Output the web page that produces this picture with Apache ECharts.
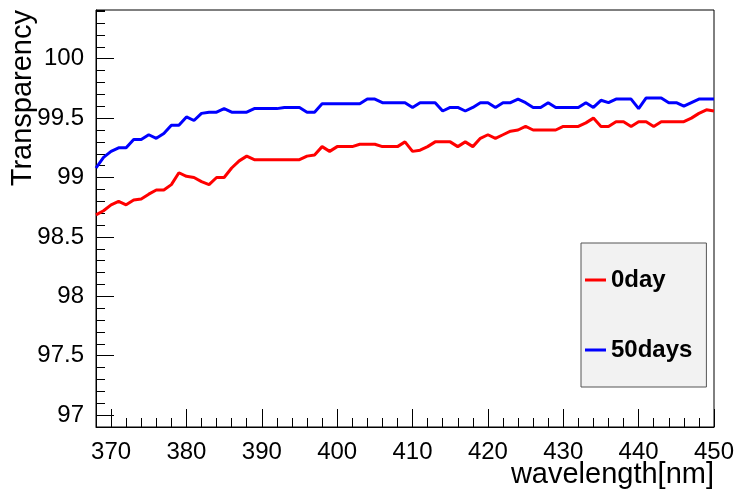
<!DOCTYPE html>
<html>
<head>
<meta charset="utf-8">
<script src="https://cdn.jsdelivr.net/npm/echarts@6/dist/echarts.min.js"></script>
<style>
html,body{margin:0;padding:0;background:#fff;}
#chart{width:738px;height:494px;}
</style>
</head>
<body>
<div id="chart"></div>
<script>
var wavelengths = [368,369,370,371,372,373,374,375,376,377,378,379,380,381,382,383,384,385,386,387,388,389,390,391,392,393,394,395,396,397,398,399,400,401,402,403,404,405,406,407,408,409,410,411,412,413,414,415,416,417,418,419,420,421,422,423,424,425,426,427,428,429,430,431,432,433,434,435,436,437,438,439,440,441,442,443,444,445,446,447,448,449,450];

var day0 = [98.685,98.72,98.77,98.80,98.77,98.81,98.82,98.86,98.895,98.895,98.94,99.04,99.01,99.00,98.965,98.94,99.00,99.00,99.08,99.14,99.18,99.15,99.15,99.15,99.15,99.15,99.15,99.15,99.18,99.19,99.26,99.22,99.26,99.26,99.26,99.28,99.28,99.28,99.26,99.26,99.26,99.30,99.22,99.23,99.26,99.30,99.30,99.30,99.26,99.30,99.26,99.33,99.36,99.33,99.36,99.39,99.40,99.43,99.40,99.40,99.40,99.40,99.43,99.43,99.43,99.46,99.50,99.43,99.43,99.47,99.47,99.43,99.47,99.47,99.43,99.47,99.47,99.47,99.47,99.50,99.54,99.57,99.56];

var days50 = [99.08,99.17,99.22,99.25,99.25,99.32,99.32,99.36,99.33,99.37,99.44,99.44,99.51,99.48,99.54,99.55,99.55,99.58,99.55,99.55,99.55,99.58,99.58,99.58,99.58,99.59,99.59,99.59,99.55,99.55,99.62,99.62,99.62,99.62,99.62,99.62,99.66,99.66,99.63,99.63,99.63,99.63,99.59,99.63,99.63,99.63,99.56,99.59,99.59,99.56,99.59,99.63,99.63,99.59,99.63,99.63,99.66,99.63,99.59,99.59,99.63,99.59,99.59,99.59,99.59,99.63,99.59,99.65,99.63,99.66,99.66,99.66,99.58,99.67,99.67,99.67,99.63,99.63,99.60,99.63,99.66,99.66,99.66];

var seriesNames = ['0day', '50days'];
var xTicks = [370,380,390,400,410,420,430,440,450];
var yTicks = [97,97.5,98,98.5,99,99.5,100];

var X_MIN = 368, X_MAX = 450, Y_MIN = 96.9, Y_MAX = 100.41;

function pairs(xs, ys){ return xs.map(function(x,i){ return [x, ys[i]]; }); }

// category helper axes (one entry per 1 nm / per 0.01) used only to place major ticks and labels
var xCats = [];
for (var a = X_MIN; a <= X_MAX; a++) xCats.push(String(a));
var yCats = [];
for (var b = Math.round(Y_MIN*100); b <= Math.round(Y_MAX*100); b++) yCats.push(String(b/100));

function isXMajor(i, v){ return xTicks.indexOf(Number(v)) >= 0; }
function isYMajor(i, v){ return yTicks.indexOf(Number(v)) >= 0; }

var chart = echarts.init(document.getElementById('chart'), null, {renderer:'canvas'});
var font = 'Liberation Sans, Arial, Helvetica, sans-serif';

chart.setOption({
  animation: false,
  backgroundColor: '#ffffff',
  grid: {left: 96, right: 24, top: 10, bottom: 67, show: true, borderColor: '#000', borderWidth: 1, backgroundColor: 'transparent'},
  xAxis: [{
    type: 'value', min: X_MIN, max: X_MAX, interval: 2, position: 'bottom',
    axisLine: {show: true, onZero: false, lineStyle: {color: '#000', width: 1}},
    axisTick: {show: true, inside: true, length: 9, lineStyle: {color: '#000'}},
    axisLabel: {show: false},
    splitLine: {show: false}
  }, {
    type: 'category', data: xCats, boundaryGap: false, position: 'bottom',
    axisLine: {show: false},
    axisTick: {show: true, inside: true, length: 18, interval: isXMajor, lineStyle: {color: '#000'}},
    axisLabel: {show: true, interval: isXMajor, margin: 13, color: '#000', fontSize: 24, fontFamily: font},
    splitLine: {show: false}
  }],
  yAxis: [{
    type: 'value', min: Y_MIN, max: Y_MAX, interval: 0.1, position: 'left',
    axisLine: {show: true, onZero: false, lineStyle: {color: '#000', width: 1}},
    axisTick: {show: true, inside: true, length: 9, lineStyle: {color: '#000'}},
    axisLabel: {show: false},
    splitLine: {show: false}
  }, {
    type: 'category', data: yCats, boundaryGap: false, position: 'left',
    axisLine: {show: false},
    axisTick: {show: true, inside: true, length: 18, interval: isYMajor, lineStyle: {color: '#000'}},
    axisLabel: {show: true, interval: isYMajor, margin: 12, color: '#000', fontSize: 24, fontFamily: font},
    splitLine: {show: false}
  }],
  legend: {
    data: seriesNames,
    orient: 'vertical', left: 581, top: 243,
    icon: 'rect', itemWidth: 21, itemHeight: 3, itemGap: 46,
    textStyle: {color: '#000', fontWeight: 'bold', fontSize: 24, lineHeight: 22, fontFamily: font},
    backgroundColor: '#f2f2f2', borderColor: '#555', borderWidth: 1, borderRadius: 0,
    padding: [25, 14, 25, 4]
  },
  graphic: [{
    type: 'text', right: 24, top: 460,
    style: {text: 'wavelength[nm]', fill: '#000', font: '29px ' + font}
  }, {
    type: 'text', x: 37, y: 10, rotation: Math.PI/2,
    style: {text: 'Transparency', fill: '#000', font: '29px ' + font, align: 'right', verticalAlign: 'bottom'}
  }],
  series: [{
    name: seriesNames[0], type: 'line', xAxisIndex: 0, yAxisIndex: 0,
    data: pairs(wavelengths, day0), showSymbol: false, symbol: 'none',
    lineStyle: {color: '#ff0000', width: 3}, itemStyle: {color: '#ff0000'}
  }, {
    name: seriesNames[1], type: 'line', xAxisIndex: 0, yAxisIndex: 0,
    data: pairs(wavelengths, days50), showSymbol: false, symbol: 'none',
    lineStyle: {color: '#0000ff', width: 3}, itemStyle: {color: '#0000ff'}
  }]
});
</script>
</body>
</html>
